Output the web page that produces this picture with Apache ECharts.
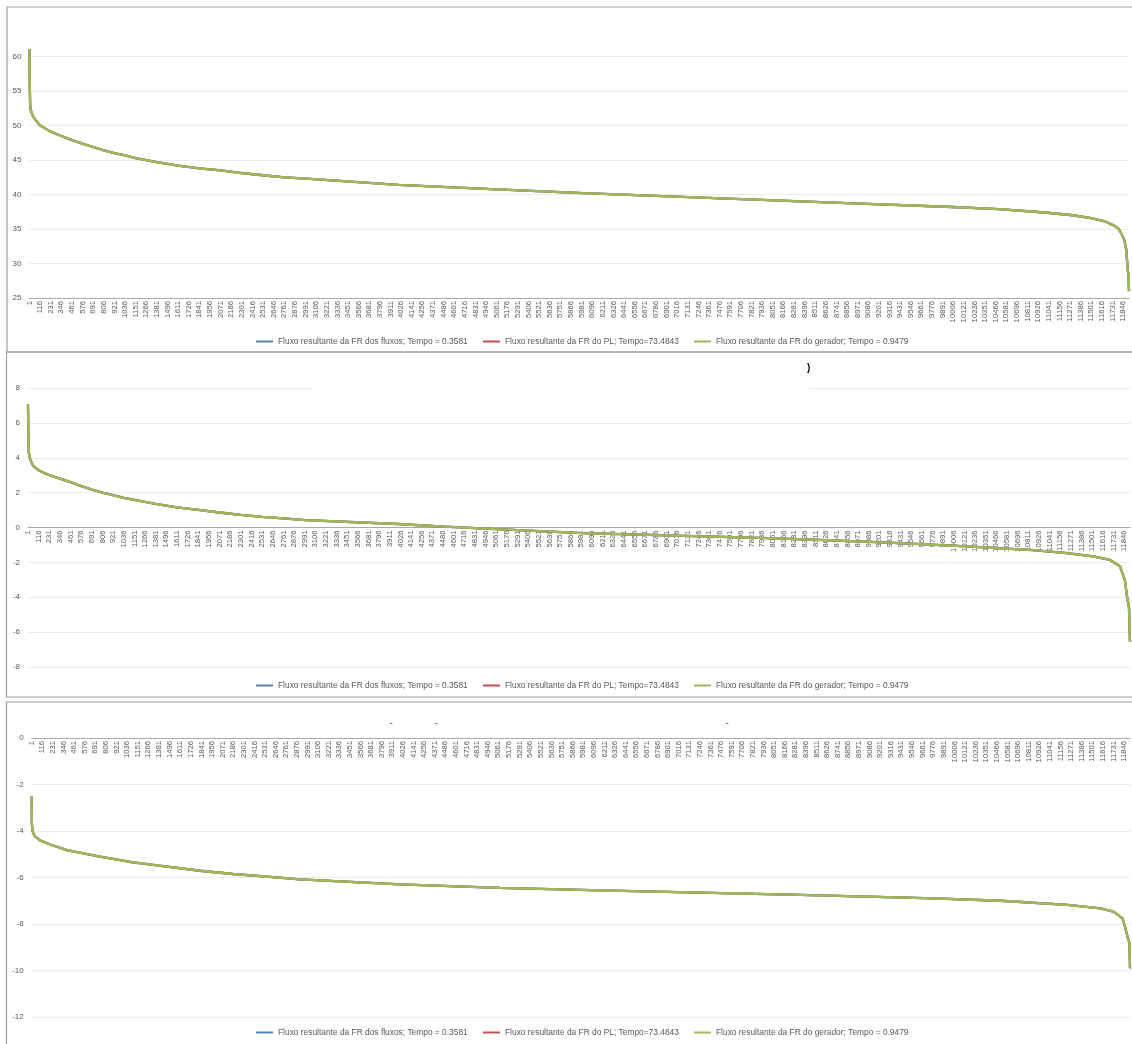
<!DOCTYPE html>
<html>
<head>
<meta charset="utf-8">
<script src="https://cdn.jsdelivr.net/npm/echarts@6/dist/echarts.min.js"></script>
<style>
  html, body { margin: 0; padding: 0; background: #ffffff; overflow: hidden; }
  #chart { width: 1132px; height: 1044px; }
</style>
</head>
<body>
<div id="chart"></div>
<script>
// Number of ordered cases on the horizontal axis (1 .. N)
const N = 11910;
const categories = Array.from({ length: N }, (_, i) => String(i + 1));

const seriesNames = [
  'Fluxo resultante da FR dos fluxos; Tempo = 0.3581',
  'Fluxo resultante da FR do PL; Tempo=73.4843',
  'Fluxo resultante da FR do gerador; Tempo = 0.9479'
];
const seriesColors = ['#4F81BD', '#C0504D', '#9BBB59'];

// Panel 1 – sorted flow values (case index, value)
const p1Idx = [1, 4, 8, 15, 40, 110, 218, 346, 461, 576, 691, 806, 921, 1036, 1151, 1266, 1381,
  1611, 1841, 2071, 2301, 2531, 2761, 3000, 4000, 5000, 6000, 7000, 8000, 9000, 10000, 10500,
  11000, 11300, 11500, 11650, 11750, 11800, 11840, 11860, 11880, 11890, 11899, 11905, 11910];
const p1Val = [61.1, 56.0, 53.0, 52.2, 51.3, 50.1, 49.2, 48.5, 47.9, 47.4, 46.9, 46.4, 46.0, 45.7, 45.3, 45.0, 44.7,
  44.2, 43.8, 43.5, 43.1, 42.8, 42.5, 42.3, 41.4, 40.8, 40.2, 39.7, 39.2, 38.7, 38.2, 37.9,
  37.4, 37.0, 36.6, 36.1, 35.5, 35.0, 34.0, 33.4, 32.0, 30.2, 28.8, 28.4, 26.0];

// Panel 2
const p2Idx = [1, 4, 10, 22, 55, 109, 231, 346, 461, 576, 691, 806, 921, 1036, 1151, 1266, 1381,
  1496, 1611, 1841, 2071, 2301, 2531, 2761, 3000, 4000, 4500, 5000, 6000, 7000, 8000, 8700,
  9424, 10148, 10862, 11229, 11510, 11694, 11802, 11856, 11878, 11899, 11910];
const p2Val = [7.05, 5.5, 4.3, 3.95, 3.55, 3.3, 3.0, 2.8, 2.6, 2.37, 2.18, 2.0, 1.85, 1.70, 1.59, 1.47, 1.36,
  1.26, 1.16, 1.01, 0.86, 0.73, 0.61, 0.52, 0.42, 0.20, 0.05, -0.08, -0.32, -0.47, -0.61, -0.74,
  -0.90, -1.08, -1.30, -1.47, -1.66, -1.86, -2.22, -3.04, -3.99, -4.57, -6.57];

// Panel 3
const p3Idx = [1, 3, 10, 30, 90, 199, 383, 741, 1099, 1468, 1826, 2184, 2553, 2911, 4000, 5080,
  6165, 7250, 8335, 9062, 9778, 10505, 11232, 11590, 11731, 11829, 11861, 11883, 11905, 11910];
const p3Val = [-2.52, -3.7, -4.0, -4.2, -4.4, -4.58, -4.82, -5.1, -5.35, -5.53, -5.71, -5.85, -5.96, -6.08, -6.3, -6.45,
  -6.55, -6.65, -6.75, -6.82, -6.90, -7.0, -7.18, -7.33, -7.47, -7.76, -8.19, -8.55, -8.83, -9.9];

// Y axis ranges per panel
const yRanges = [
  { min: 25, max: 65, interval: 5 },
  { min: -8, max: 8, interval: 2 },
  { min: -12, max: 0, interval: 2 }
];

const panels = [
  { idx: p1Idx, val: p1Val },
  { idx: p2Idx, val: p2Val },
  { idx: p3Idx, val: p3Val }
];

const FONT = 'Liberation Sans';
const TEXT = '#595959';

const grids = [
  { left: 29.5, top: 22.2, width: 1099.5, height: 275.8 },
  { left: 28, top: 388, width: 1102, height: 279 },
  { left: 31.7, top: 738, width: 1098.3, height: 279 }
];

// The category axis crosses each value axis at zero; shift it there from the grid bottom
const crossAt = 0;
const xAxes = grids.map((g, i) => {
  const r = yRanges[i];
  const cross = Math.min(Math.max(crossAt, r.min), r.max);
  const shift = -g.height * (cross - r.min) / (r.max - r.min);
  return {
    type: 'category',
    gridIndex: i,
    data: categories,
    boundaryGap: false,
    offset: shift,
    axisLine: { onZero: false, lineStyle: { color: '#a8a8a8', width: 1 } },
    axisTick: { show: false },
    splitLine: { show: false },
    axisLabel: {
      interval: 114,
      rotate: 90,
      margin: 3,
      fontFamily: FONT,
      fontSize: 7.7,
      color: TEXT
    }
  };
});

const yAxes = yRanges.map((r, i) => ({
  type: 'value',
  gridIndex: i,
  min: r.min,
  max: r.max,
  interval: r.interval,
  axisLine: { show: false },
  axisTick: { show: false },
  axisLabel: {
    margin: 8,
    fontFamily: FONT,
    fontSize: 8,
    color: TEXT,
    showMaxLabel: i !== 0
  },
  splitLine: {
    show: true,
    showMaxLine: i !== 0,
    lineStyle: { color: '#ececec', width: 1 }
  }
}));

const series = [];
panels.forEach((p, pi) => {
  const pts = p.idx.map((c, k) => [c - 1, p.val[k]]);
  seriesNames.forEach((name, si) => {
    series.push({
      name: name,
      type: 'line',
      xAxisIndex: pi,
      yAxisIndex: pi,
      data: pts,
      showSymbol: false,
      symbol: 'none',
      smooth: false,
      lineStyle: { color: seriesColors[si], width: 2.3 },
      itemStyle: { color: seriesColors[si] },
      z: 2 + si
    });
  });
});

// One legend entry per component so each sits in its own column
const legendTops = [337.5, 681.5, 1028.5];
const legendLefts = [256, 483, 694];
const legends = [];
legendTops.forEach(t => {
  seriesNames.forEach((name, si) => {
    legends.push({
      data: [name],
      top: t,
      left: legendLefts[si],
      padding: 0,
      icon: 'rect',
      itemWidth: 17,
      itemHeight: 2,
      textStyle: { fontFamily: FONT, fontSize: 8.4, color: TEXT },
      selectedMode: false
    });
  });
});

// Panel frames and stray marks on the sheet
const graphic = [
  { type: 'rect', shape: { x: 7, y: 7, width: 1140, height: 345 }, style: { fill: 'none', stroke: '#a0a0a0', lineWidth: 1.2 }, z: 10 },
  { type: 'rect', shape: { x: 6.5, y: 352, width: 1140, height: 345 }, style: { fill: 'none', stroke: '#a0a0a0', lineWidth: 1.2 }, z: 10 },
  { type: 'rect', shape: { x: 6.5, y: 702, width: 1140, height: 360 }, style: { fill: 'none', stroke: '#a0a0a0', lineWidth: 1.2 }, z: 10 },
  { type: 'rect', shape: { x: 313, y: 386, width: 496, height: 4 }, style: { fill: '#ffffff' }, z: 10 },
  { type: 'text', x: 807, y: 363, style: { text: ')', fontFamily: FONT, fontSize: 10, fontWeight: 'bold', fill: '#000' }, z: 11 },
  { type: 'text', x: 390, y: 719, style: { text: '-', fontFamily: FONT, fontSize: 8, fill: '#000' }, z: 11 },
  { type: 'text', x: 435, y: 719, style: { text: '-', fontFamily: FONT, fontSize: 8, fill: '#000' }, z: 11 },
  { type: 'text', x: 726, y: 719, style: { text: '-', fontFamily: FONT, fontSize: 8, fill: '#000' }, z: 11 }
];

const chart = echarts.init(document.getElementById('chart'), null, { renderer: 'canvas' });
chart.setOption({
  animation: false,
  backgroundColor: '#ffffff',
  grid: grids,
  xAxis: xAxes,
  yAxis: yAxes,
  legend: legends,
  series: series,
  graphic: graphic
});
</script>
</body>
</html>
